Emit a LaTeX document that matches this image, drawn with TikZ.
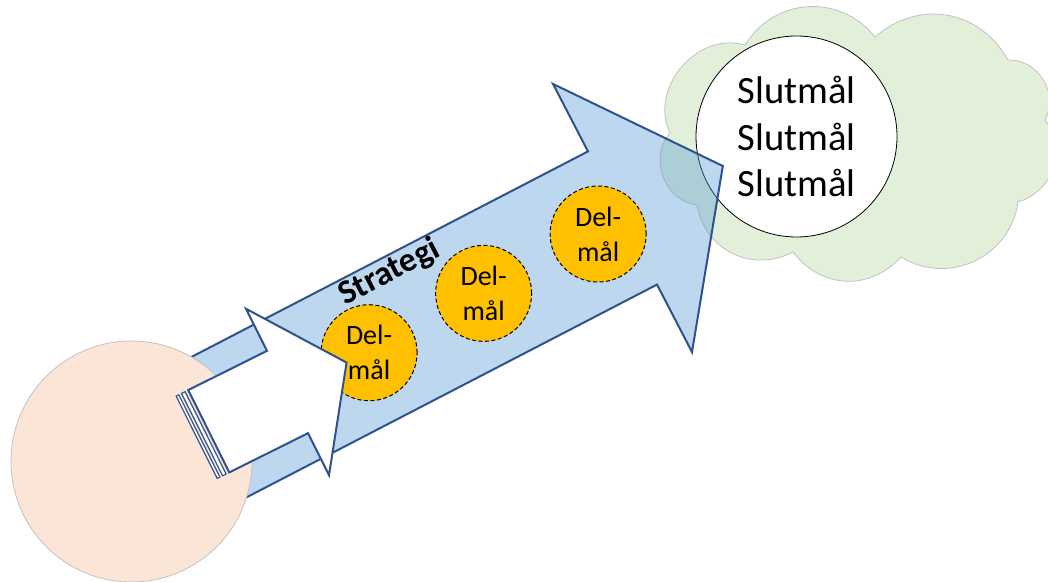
\documentclass[tikz,border=0pt]{standalone}
\usepackage{fontspec}
\setmainfont{Carlito}
\usetikzlibrary{positioning}
\definecolor{arrowblue}{HTML}{5B9BD5}
\definecolor{edgeblue}{HTML}{2F528F}
\definecolor{cloudgreen}{HTML}{E2F0D9}
\definecolor{peach}{HTML}{FBE5D6}
\definecolor{delgold}{HTML}{FFC000}
\definecolor{softgrey}{HTML}{BFBFBF}

\begin{document}
\begin{tikzpicture}[
    x=1pt, y=1pt,
    every node/.style={inner sep=0pt},
    puff/.style={bend left=#1, looseness=1.1},
    delmal/.style={circle, draw=black, line width=1pt, dash pattern=on 4pt off 2.5pt, fill=delgold, minimum size=96pt, align=center, font=\fontsize{28}{35}\selectfont},
    goal/.style={circle, draw=black, line width=0.8pt, fill=white, minimum size=201pt, align=center, font=\fontsize{38.6}{46.7}\selectfont},
    bigarrow/.style={draw=edgeblue, line width=2pt, fill=arrowblue, fill opacity=0.4},
    whitearrow/.style={draw=edgeblue, line width=2pt, fill=white},
    stripe/.style={draw=edgeblue, line width=1.2pt, fill=white}
]
\useasboundingbox (0,0) rectangle (1048,581);

% cloud behind the goal
\coordinate (c1) at (745,536);
\coordinate (c2) at (875,544);
\coordinate (c3) at (1008,521);
\coordinate (c4) at (1045,461);
\coordinate (c5) at (1018,379);
\coordinate (c6) at (901,324);
\coordinate (c7) at (793,329);
\coordinate (c8) at (697,376);
\coordinate (c9) at (670,448);
\path[draw=softgrey, line width=0.75pt, fill=cloudgreen]
    (c1) to[puff=55] (c2) to[puff=51] (c3) to[puff=60] (c4) to[puff=55] (c5)
    to[puff=57] (c6) to[puff=50] (c7) to[puff=54] (c8) to[puff=62] (c9)
    to[puff=66] (c1) -- cycle;

\node[goal] (goal) at (796.5,444.5) {Slutmål\\Slutmål\\Slutmål};

% strategy arrow
\begin{scope}[shift={(622.5,363)}, rotate=27.4]
\draw[bigarrow] (-520,75) -- (0,75) -- (0,151) -- (113,0) -- (0,-151) -- (0,-75) -- (-520,-75) -- cycle;
\node[rotate=27.4, font=\bfseries\fontsize{34}{40}\selectfont] (strategi) at (-232,59) {Strategi};
\foreach \pos/\name in {-287/dm1, -158/dm2, -29/dm3}
    \node[delmal] (\name) at (\pos,-3) {Del-\\mål};
\end{scope}

\node[circle, draw=softgrey, line width=0.75pt, fill=peach, minimum size=241pt] (start) at (131.5,119.5) {};

% striped start arrow
\begin{scope}[shift={(287.5,189)}, rotate=26.5]
\draw[stripe] (-101.5,-46) rectangle (-98.5,46);
\draw[stripe] (-95.5,-46) rectangle (-91.5,46);
\draw[whitearrow] (-88,46) -- (0,46) -- (0,93) -- (66,0) -- (0,-93) -- (0,-46) -- (-88,-46) -- cycle;
\end{scope}
\end{tikzpicture}
\end{document}
